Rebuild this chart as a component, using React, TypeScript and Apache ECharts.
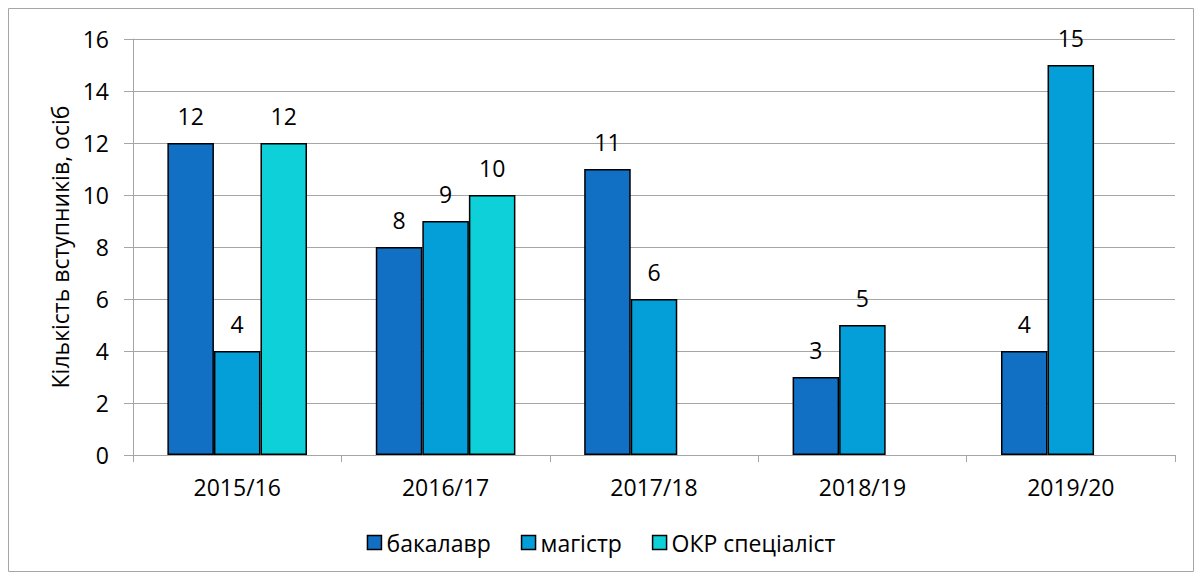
import React, { useEffect, useRef } from "react";
import * as echarts from "echarts";

const categories = ["2015/16", "2016/17", "2017/18", "2018/19", "2019/20"];
const bachelor = [12, 8, 11, 3, 4];
const master = [4, 9, 6, 5, 15];
const specialist = [12, 10, null, null, null];
const seriesNames = ["бакалавр", "магістр", "ОКР спеціаліст"];
const colors = ["#116FC4", "#049FD8", "#0DD0D8"];
const yTicks = { min: 0, max: 16, interval: 2 };

const FONT = "'Open Sans', 'Noto Sans', sans-serif";
const FS = 23;

export default function App() {
  const ref = useRef<HTMLDivElement>(null);
  useEffect(() => {
    const chart = echarts.init(ref.current!, null, { renderer: "svg" });
    const mk = (name: string, data: (number | null)[], color: string) => ({
      name,
      type: "bar",
      data,
      barGap: "0%",
      barCategoryGap: "33%",
      itemStyle: { color, borderColor: "#000", borderWidth: 1.5 },
      label: {
        show: true,
        position: "top",
        distance: 16,
        color: "#000",
        fontSize: FS,
        fontFamily: FONT,
      },
    });
    chart.setOption({
      animation: false,
      backgroundColor: "#fff",
      textStyle: { fontFamily: FONT },
      graphic: [
        {
          type: "rect",
          shape: { x: 0.5, y: 0.5, width: 1185, height: 563 },
          style: { fill: "none", stroke: "#a6a6a6", lineWidth: 1 },
          silent: true,
        },
      ],
      grid: { left: 125, right: 19, top: 31, bottom: 117 },
      legend: {
        bottom: 13,
        left: "center",
        itemWidth: 14,
        itemHeight: 14,
        itemGap: 30,
        icon: "rect",
        textStyle: { fontSize: FS, color: "#000", fontFamily: FONT },
        itemStyle: { borderColor: "#000", borderWidth: 1.5 },
        data: seriesNames,
      },
      xAxis: {
        type: "category",
        data: categories,
        axisLine: { lineStyle: { color: "#a6a6a6", width: 1 } },
        axisTick: { show: true, length: 7, lineStyle: { color: "#a6a6a6" } },
        axisLabel: { color: "#000", fontSize: FS, fontFamily: FONT, margin: 20 },
      },
      yAxis: {
        type: "value",
        min: yTicks.min,
        max: yTicks.max,
        interval: yTicks.interval,
        name: "Кількість вступників, осіб",
        nameLocation: "middle",
        nameGap: 62,
        nameRotate: 90,
        nameTextStyle: { color: "#000", fontSize: FS, fontFamily: FONT },
        axisLine: { show: true, lineStyle: { color: "#a6a6a6", width: 1 } },
        axisTick: { show: true, length: 9, lineStyle: { color: "#a6a6a6" } },
        axisLabel: { color: "#000", fontSize: FS, fontFamily: FONT, margin: 24 },
        splitLine: { lineStyle: { color: "#a6a6a6", width: 1 } },
      },
      series: [
        mk(seriesNames[0], bachelor, colors[0]),
        mk(seriesNames[1], master, colors[1]),
        mk(seriesNames[2], specialist, colors[2]),
      ],
    });
    return () => chart.dispose();
  }, []);
  return <div ref={ref} style={{ width: 1186, height: 564 }} />;
}
